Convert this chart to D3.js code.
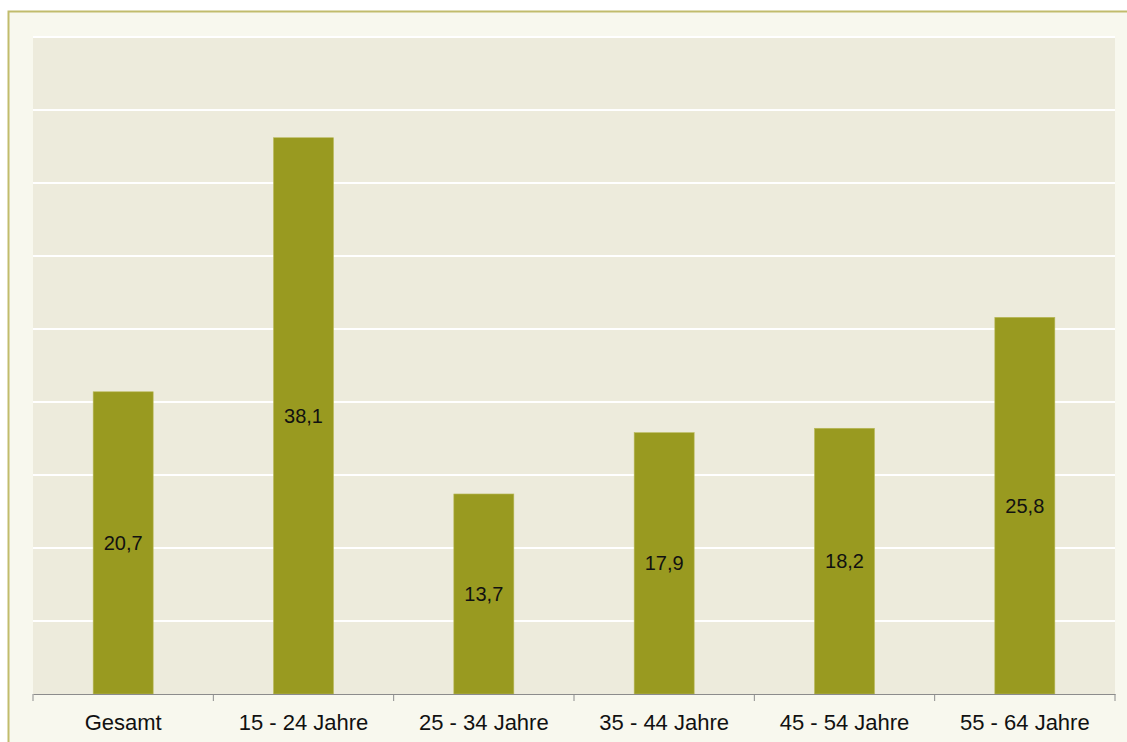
<!DOCTYPE html>
<html lang="de">
<head>
<meta charset="utf-8">
<title>Balkendiagramm</title>
<script src="https://d3js.org/d3.v7.min.js"></script>
<style>
  body { margin: 0; background: #fff; font-family: "Liberation Sans", Arial, sans-serif; }
</style>
</head>
<body>
<script>
// data
var categories = ["Gesamt", "15 - 24 Jahre", "25 - 34 Jahre", "35 - 44 Jahre", "45 - 54 Jahre", "55 - 64 Jahre"];
var values = [20.7, 38.1, 13.7, 17.9, 18.2, 25.8];
var yTicks = [0, 5, 10, 15, 20, 25, 30, 35, 40, 45];

var w = 1127, h = 742;
var margin = {left: 33, right: 12, top: 37, bottom: 48};

var svg = d3.select("body").append("svg").attr("width", w).attr("height", h);

// outer box
svg.append("rect").attr("x", 8.5).attr("y", 11.5).attr("width", w + 20).attr("height", h)
  .attr("fill", "#f8f8ee").attr("stroke", "#c1bc6c").attr("stroke-width", 2);

var x = d3.scaleBand().domain(categories).range([margin.left, w - margin.right]);
var y = d3.scaleLinear().domain([0, 45]).range([h - margin.bottom, margin.top]);

// plot area
svg.append("rect").attr("x", margin.left).attr("y", margin.top)
  .attr("width", w - margin.right - margin.left).attr("height", y(0) - margin.top)
  .attr("fill", "#edebdc");

// gridlines
svg.selectAll(".grid").data(yTicks.slice(1)).enter().append("line")
  .attr("x1", margin.left).attr("x2", w - margin.right)
  .attr("y1", d => y(d)).attr("y2", d => y(d))
  .attr("stroke", "#fff").attr("stroke-width", 2);

// bars
var bw = 60;
svg.selectAll(".bar").data(values).enter().append("rect")
  .attr("x", (d, i) => x(categories[i]) + x.bandwidth() / 2 - bw / 2)
  .attr("y", d => y(d))
  .attr("width", bw).attr("height", d => y(0) - y(d))
  .attr("fill", "#999a20").attr("stroke", "#b9b95a").attr("stroke-width", 0.6);

// value labels
svg.selectAll(".val").data(values).enter().append("text")
  .attr("x", (d, i) => x(categories[i]) + x.bandwidth() / 2)
  .attr("y", d => (y(d) + y(0)) / 2)
  .attr("dy", "0.35em").attr("text-anchor", "middle")
  .attr("font-size", 20).attr("fill", "#111")
  .text(d => d.toFixed(1).replace(".", ","));

// x axis
var xAxis = d3.axisBottom(x).tickSize(0).tickPadding(20);
var gx = svg.append("g").attr("transform", "translate(0," + y(0) + ")").call(xAxis);
gx.attr("font-size", null).attr("font-family", null);
gx.select(".domain").attr("stroke", "#8c8c8c");
gx.selectAll("text").attr("dy", null).attr("y", 36)
  .style("font-size", "22px").style("font-family", "'Liberation Sans', Arial, sans-serif").attr("fill", "#111");

var bounds = [margin.left].concat(categories.map(c => x(c) + x.bandwidth()));
gx.selectAll(".sep").data(bounds).enter().append("line")
  .attr("x1", d => d).attr("x2", d => d).attr("y1", 0).attr("y2", 7)
  .attr("stroke", "#8c8c8c");
</script>
</body>
</html>
